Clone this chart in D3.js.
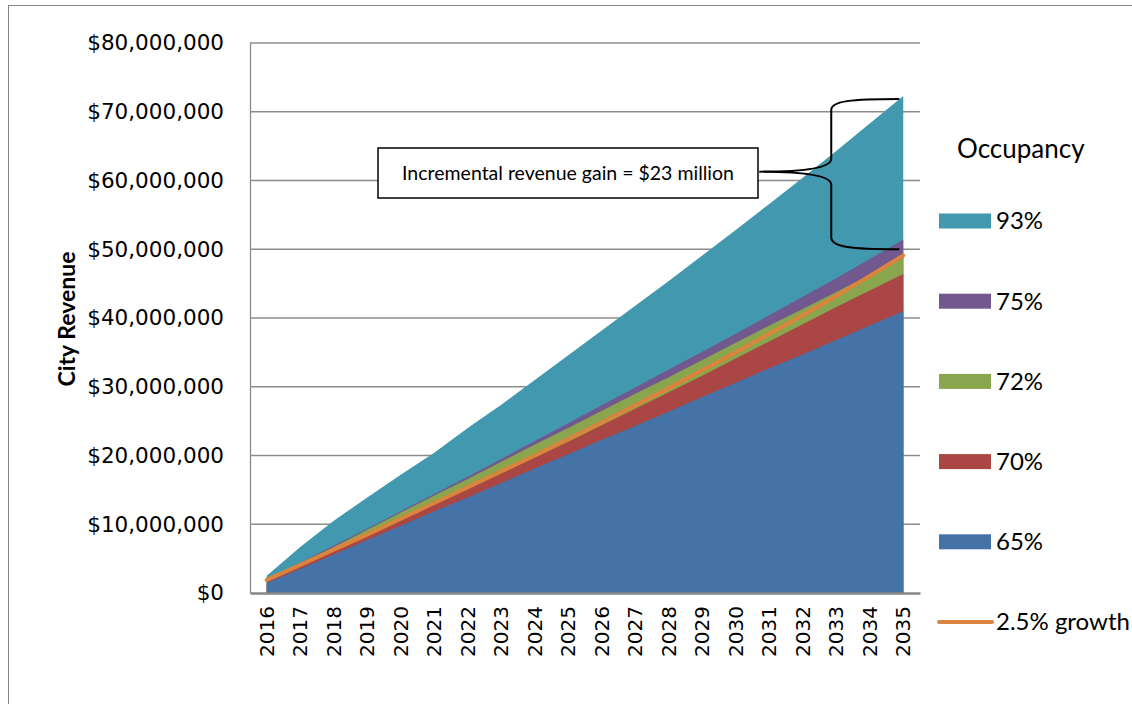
<!DOCTYPE html>
<html>
<head>
<meta charset="utf-8">
<script src="https://cdn.jsdelivr.net/npm/d3@7"></script>
<style>
  body { margin: 0; background: #fff; }
  svg { display: block; }
</style>
</head>
<body>
<svg id="chart"></svg>
<script>
// categories
const years = [2016, 2017, 2018, 2019, 2020, 2021, 2022, 2023, 2024, 2025,
               2026, 2027, 2028, 2029, 2030, 2031, 2032, 2033, 2034, 2035]

// city revenue per occupancy scenario, in $ millions
const occ93 = [2.5, 6.7, 10.5, 13.9, 17.2, 20.4, 24.0, 27.4, 31.0, 34.6, 38.2, 41.8, 45.4, 49.1, 52.8, 56.6, 60.4, 64.3, 68.3, 72.3]
const occ75 = [1.9, 4.4, 6.9, 9.4, 11.9, 14.4, 16.9, 19.5, 22.1, 24.7, 27.3, 29.9, 32.5, 35.1, 37.7, 40.4, 43.1, 45.8, 48.6, 51.4]
const occ72 = [1.8, 4.3, 6.7, 9.2, 11.7, 14.2, 16.6, 19.1, 21.6, 24.0, 26.5, 29.0, 31.4, 33.9, 36.4, 38.9, 41.3, 43.8, 46.3, 48.7]
const occ70 = [1.7, 3.9, 6.1, 8.4, 10.6, 12.9, 15.1, 17.4, 19.7, 22.0, 24.4, 26.8, 29.2, 31.6, 34.1, 36.6, 39.1, 41.6, 44.0, 46.4]
const occ65 = [1.45, 3.5, 5.6, 7.7, 9.8, 11.9, 13.9, 16.0, 18.1, 20.2, 22.3, 24.3, 26.4, 28.5, 30.6, 32.7, 34.7, 36.8, 38.9, 41.0]
const growth = [1.9, 4.1, 6.3, 8.5, 10.8, 13.1, 15.4, 17.7, 20.0, 22.4, 24.8, 27.3, 29.8, 32.4, 35.0, 37.7, 40.4, 43.2, 46.1, 49.1]

const yTicks = [0, 10e6, 20e6, 30e6, 40e6, 50e6, 60e6, 70e6, 80e6]

// areas drawn back to front
const areaSeries = [
  { name: '93%', values: occ93, color: '#4198AF' },
  { name: '75%', values: occ75, color: '#71588F' },
  { name: '72%', values: occ72, color: '#89A54E' },
  { name: '70%', values: occ70, color: '#AA4643' },
  { name: '65%', values: occ65, color: '#4572A7' }
]
const lineSeries = { name: '2.5% growth', values: growth, color: '#DB843D' }

// brace annotation: spans from the 93% end value down to $50M
const braceSpan = [72e6, 50e6]
const noteText = 'Incremental revenue gain = $23 million'

const width = 1132
const height = 704
const plot = { left: 250, right: 920, top: 43, bottom: 593 }

const svg = d3.select('svg#chart')
  .attr('width', width)
  .attr('height', height)

// outer frame
svg.append('rect')
  .attr('x', 8.5).attr('y', 5.5)
  .attr('width', 1140).attr('height', 720)
  .attr('fill', 'none')
  .attr('stroke', '#868686')
  .attr('stroke-width', 1)

const x = d3.scaleBand().domain(years).range([plot.left, plot.right])
const cx = d => x(d) + x.bandwidth() / 2
const y = d3.scaleLinear().domain([0, 80e6]).range([plot.bottom, plot.top])

// gridlines
svg.append('g')
  .selectAll('line')
  .data(yTicks.filter(d => d > 0))
  .enter().append('line')
  .attr('x1', plot.left).attr('x2', plot.right)
  .attr('y1', d => y(d)).attr('y2', d => y(d))
  .attr('stroke', '#8c8c8c')
  .attr('stroke-width', 1.3)

// areas
const area = d3.area()
  .x((d, i) => cx(years[i]))
  .y0(y(0))
  .y1(d => y(d * 1e6))

svg.append('g')
  .selectAll('path')
  .data(areaSeries)
  .enter().append('path')
  .attr('d', d => area(d.values))
  .attr('fill', d => d.color)

// growth line
const line = d3.line()
  .x((d, i) => cx(years[i]))
  .y(d => y(d * 1e6))

svg.append('path')
  .attr('d', line(lineSeries.values))
  .attr('fill', 'none')
  .attr('stroke', lineSeries.color)
  .attr('stroke-width', 4)
  .attr('stroke-linecap', 'round')
  .attr('stroke-linejoin', 'round')

// axes
const yAxis = svg.append('g')
  .attr('transform', `translate(${plot.left},0)`)
  .call(d3.axisLeft(y).tickValues(yTicks).tickSize(0).tickPadding(26).tickFormat(d3.format('$,')))
yAxis.select('.domain').attr('stroke', '#8c8c8c').attr('stroke-width', 1.3)
yAxis.selectAll('text')
  .attr('font-family', 'DejaVu Sans, sans-serif')
  .attr('font-size', 21.5)
  .attr('fill', '#000')

const xAxis = svg.append('g')
  .attr('transform', `translate(0,${plot.bottom})`)
  .call(d3.axisBottom(x).tickSize(0).tickPadding(0))
xAxis.select('.domain').attr('stroke', '#868686').attr('stroke-width', 2.5)
xAxis.selectAll('text')
  .attr('font-family', 'DejaVu Sans, sans-serif')
  .attr('font-size', 20)
  .attr('fill', '#000')
  .attr('text-anchor', 'end')
  .attr('dy', '0.35em')
  .attr('transform', 'translate(0,13) rotate(-90)')

// y title
svg.append('text')
  .attr('transform', 'translate(75,319) rotate(-90)')
  .attr('text-anchor', 'middle')
  .attr('font-family', 'Lato, sans-serif')
  .attr('font-weight', 'bold')
  .attr('font-size', 23)
  .text('City Revenue')

// annotation box
const xEnd = cx(years[years.length - 1])
const yTop = y(braceSpan[0])
const yBot = y(braceSpan[1])
const yMid = (yTop + yBot) / 2 - 2
const bx = xEnd - 72

svg.append('path')
  .attr('d', `M${xEnd - 4},${yTop + 1} C${bx + 20},${yTop + 1} ${bx},${yTop + 3} ${bx},${yTop + 12}
    L${bx},${yMid - 13} C${bx},${yMid - 3} ${bx - 30},${yMid} ${bx - 72},${yMid}
    C${bx - 30},${yMid} ${bx},${yMid + 3} ${bx},${yMid + 13}
    L${bx},${yBot - 12} C${bx},${yBot - 2} ${bx + 20},${yBot} ${xEnd - 4},${yBot}`)
  .attr('fill', 'none')
  .attr('stroke', '#000')
  .attr('stroke-width', 2)

const note = svg.append('g')
note.append('rect')
  .attr('x', 378).attr('y', 148)
  .attr('width', 380).attr('height', 50)
  .attr('fill', '#fff')
  .attr('stroke', '#000')
  .attr('stroke-width', 1.5)
note.append('text')
  .attr('x', 568).attr('y', 173)
  .attr('dy', '0.35em')
  .attr('text-anchor', 'middle')
  .attr('font-family', 'Lato, sans-serif')
  .attr('font-size', 19.5)
  .text(noteText)

// legend
const legend = svg.append('g')
legend.append('text')
  .attr('x', 957).attr('y', 149)
  .attr('dy', '0.35em')
  .attr('font-family', 'Lato, sans-serif')
  .attr('font-size', 26)
  .text('Occupancy')

const legendItems = areaSeries.concat([lineSeries])
const item = legend.selectAll('g.item')
  .data(legendItems)
  .enter().append('g')
  .attr('class', 'item')
  .attr('transform', (d, i) => `translate(939,${221 + i * 80.2})`)

item.filter(d => d !== lineSeries).append('rect')
  .attr('x', 0).attr('y', -7.5)
  .attr('width', 52).attr('height', 15)
  .attr('fill', d => d.color)

item.filter(d => d === lineSeries).append('line')
  .attr('x1', 0).attr('x2', 53)
  .attr('stroke', d => d.color)
  .attr('stroke-width', 4)
  .attr('stroke-linecap', 'round')

item.append('text')
  .attr('x', 57).attr('y', 0)
  .attr('dy', '0.35em')
  .attr('font-family', 'Lato, sans-serif')
  .attr('font-size', 24)
  .text(d => d.name)
</script>
</body>
</html>
